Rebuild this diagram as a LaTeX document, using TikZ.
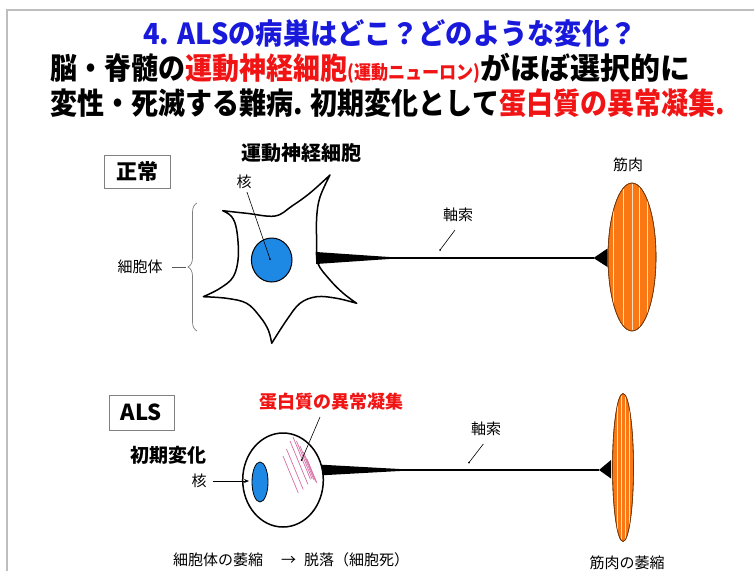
\documentclass[tikz,border=0pt]{standalone}
\usepackage{fontspec}
\setmainfont{Noto Sans CJK JP}
\usetikzlibrary{decorations.pathreplacing,arrows.meta}

\definecolor{titleblue}{RGB}{25,25,220}
\definecolor{alertred}{RGB}{240,20,20}
\definecolor{nucblue}{RGB}{30,136,229}
\definecolor{muscle}{RGB}{250,120,20}
\definecolor{stripe}{RGB}{255,222,190}
\definecolor{aggr}{RGB}{215,110,165}
\definecolor{framegray}{RGB}{190,190,190}

\begin{document}
\begin{tikzpicture}[x=1pt,y=-1pt,
  every node/.style={inner sep=0pt},
  fs/.style={font=\fontsize{#1}{#1}\selectfont},
  bfs/.style={font=\fontsize{#1}{#1}\selectfont\bfseries},
  labelbox/.style={draw=gray, line width=0.8pt},
  cellline/.style={line width=1.5pt, line join=round},
  pointer/.style={line width=0.6pt},
  tipdot/.style={fill=black, radius=1pt},
  aggrline/.style={aggr, line width=0.7pt},
  musclebody/.style={fill=muscle, draw=black!55!muscle, line width=0.6pt},
  musclestripe/.style={stripe, line width=0.9pt},
]
\useasboundingbox (0,0) rectangle (754,571);

% slide frame
\draw[framegray, line width=2pt] (7,571) -- (7,10) -- (754,10);

% heading
\node[bfs=29, text=titleblue] (title) at (390,33)
  {\scalebox{0.94}[1]{4. ALSの病巣はどこ？どのような変化？}};
\node[bfs=30, anchor=west] (lineA) at (50,68)
  {\scalebox{0.9}[1]{脳・脊髄の\textcolor{alertred}{運動神経細胞{\fontsize{19}{19}\selectfont(運動ニューロン)}}}\scalebox{1.0}[1]{がほぼ選択的に}};
\node[bfs=30, anchor=west] (lineB) at (50,103)
  {\scalebox{0.9}[1]{変性・死滅する難病. 初期変化として\textcolor{alertred}{蛋白質の異常凝集.}}};

% ---------------- normal motor neuron ----------------
\node[labelbox, minimum width=66pt, minimum height=33pt, bfs=21] (normal) at (137,171.5) {正常};
\node[bfs=20] (mnlabel) at (301,153) {運動神経細胞};

% cell body outline
\draw[cellline, fill=white]
  plot[smooth, tension=0.6] coordinates {(222.7,210.7) (246.7,213.3) (275,216) (292,206) (310,193) (330,175)}
  -- plot[smooth, tension=0.6] coordinates {(330,175) (320,197) (316.7,217) (316.7,243) (317.7,263) (330,280) (343.3,293.3) (356.7,303.3)}
  -- plot[smooth, tension=0.6] coordinates {(356.7,303.3) (336.7,298.3) (316.7,296.7) (300,303.3) (286.7,320) (271.7,343.3)}
  -- plot[smooth, tension=0.6] coordinates {(271.7,343.3) (268.3,330) (260,316.7) (246.7,303.3) (226.7,298.3) (203.3,296.7)}
  -- plot[smooth, tension=0.6] coordinates {(203.3,296.7) (220,288.3) (233.3,276.7) (238.3,256.7) (236.7,230) (231.7,216.7) (222.7,210.7)}
  -- cycle;

% nucleus
\draw[fill=nucblue, line width=1pt] (271.7,260) ellipse [x radius=20.3, y radius=22];
\coordinate (nucN) at (270,259);
\node[fs=15] (kakuN) at (244,182) {核};
\draw[pointer] (kakuN.south) ++(3,3) coordinate (kakuNfoot) -- (nucN);
\fill[tipdot] (nucN) circle;

% axon hillock and axon
\fill (316,252) -- (392,257.2) -- (392,258.8) -- (316,264) -- cycle;
\coordinate (axonN) at (385,258);
\coordinate (synN) at (593.5,258);
\draw[line width=2.4pt] (axonN) -- (synN);
\fill (synN) -- (607.5,248.5) -- (607.5,267) -- cycle;

\node[fs=15] (axlabelN) at (458,215) {軸索};
\coordinate (axptN) at (440,250);
\draw[pointer] (455,230) -- (axptN);
\fill[tipdot] (axptN) circle;

% cell body brace
\node[fs=15] (somalabel) at (140,267) {細胞体};
\draw[gray, line width=0.7pt, decorate, decoration={brace, amplitude=9pt}] (197,331) -- (197,203);
\coordinate (bracetip) at (186,267);
\draw[gray!70!black, line width=0.7pt] (somalabel.east) ++(9,0) -- (bracetip);

% muscle
\node[fs=15] (muscleN) at (628,165) {筋肉};
\begin{scope}
  \path[musclebody] (632,257) ellipse [x radius=24, y radius=74];
  \clip (632,257) ellipse [x radius=24, y radius=73];
  \foreach \sx/\ta/\tb in {613/190/324, 623/184/330, 632/182/332, 639.5/185/329, 647/190/322}
    \draw[musclestripe] (\sx,\ta) -- (\sx,\tb);
\end{scope}
\draw[black!55!muscle, line width=0.6pt] (632,257) ellipse [x radius=24, y radius=74];

% ---------------- ALS ----------------
\node[labelbox, minimum width=65pt, minimum height=35pt, bfs=22] (als) at (141.5,412.5) {ALS};
\node[bfs=19] (early) at (168,455) {初期変化};
\node[bfs=18, text=alertred] (aggrlabel) at (331.5,402) {蛋白質の異常凝集};

% axon wedge (drawn first, the shrunken body covers its root)
\fill (318,464.5) -- (405,469.3) -- (405,470.7) -- (318,475.5) -- cycle;

% shrunken cell body
\draw[cellline, fill=white] (283,480) ellipse [x radius=40.3, y radius=47];
\draw[fill=nucblue, line width=0.8pt] (260,482) ellipse [x radius=8, y radius=20];

% protein aggregates
\foreach \x/\y/\l in {283/456/40, 286.5/449/44, 290/441/47, 293/437/46, 296.5/441/41, 300/446/37, 303.5/452/32, 307/459/26}
  \draw[aggrline] (\x,\y) -- ({\x+0.38*\l},{\y+0.92*\l});

\coordinate (aggrpt) at (301.7,460);
\draw[pointer] (320,417) -- (aggrpt);
\fill[tipdot] (aggrpt) circle;

\node[fs=15] (kakuA) at (199,481) {核};
\coordinate (nucA) at (249,481);
\draw[pointer, line width=0.8pt, -{Stealth[length=5pt, width=4pt]}] (kakuA.east) ++(6,0) -- (nucA);

% thin axon and terminal
\coordinate (axonA) at (400,470);
\coordinate (synA) at (599,470);
\draw[line width=1.6pt] (axonA) -- (synA);
\fill (synA) -- (611,460) -- (611,478.5) -- cycle;

\node[fs=15] (axlabelA) at (486,429) {軸索};
\coordinate (axptA) at (469,462.5);
\draw[pointer] (483.3,444) -- (axptA);
\fill[tipdot] (axptA) circle;

% atrophied muscle
\begin{scope}
  \path[musclebody] (623,467.5) ellipse [x radius=10.5, y radius=74];
  \clip (623,467.5) ellipse [x radius=10.5, y radius=73];
  \foreach \sx in {617.5, 621.5, 625.5, 629.5}
    \draw[musclestripe] (\sx,396) -- (\sx,539);
\end{scope}
\draw[black!55!muscle, line width=0.6pt] (623,467.5) ellipse [x radius=10.5, y radius=74];

% captions
\node[fs=15, anchor=west] (fateA) at (173,560) {細胞体の萎縮\hspace{18pt}→\hspace{8pt}脱落（細胞死）};
\node[fs=15] (fateM) at (627,563) {筋肉の萎縮};
\end{tikzpicture}
\end{document}
